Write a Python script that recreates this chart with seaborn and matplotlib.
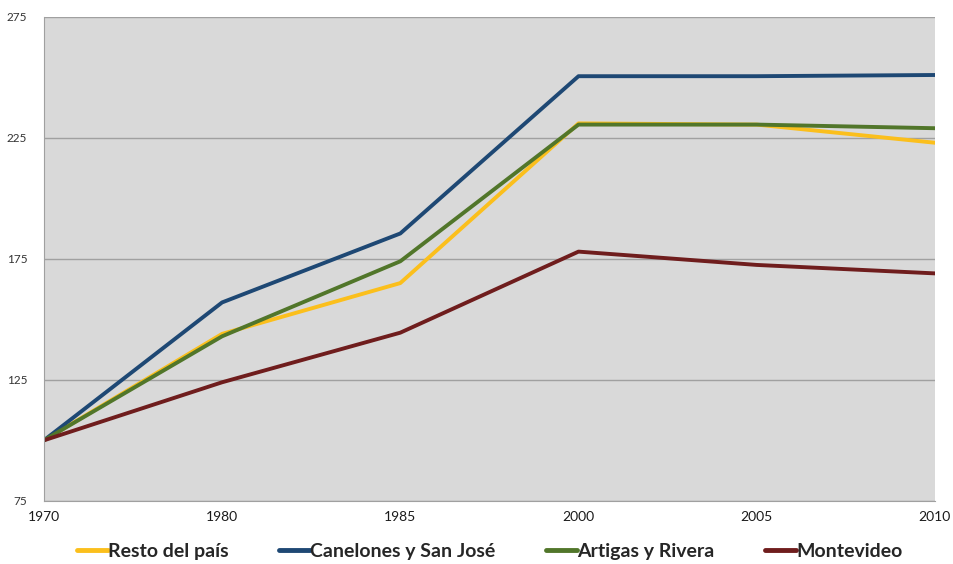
import pandas as pd
import matplotlib.pyplot as plt
import seaborn as sb

# Datos (índice base 1970 = 100)
years = ['1970', '1980', '1985', '2000', '2005', '2010']
series_names = ['Resto del país', 'Canelones y San José', 'Artigas y Rivera', 'Montevideo']
resto = [100, 144, 165, 231, 230.5, 223]
canelones = [100, 157, 185.5, 250.5, 250.5, 251]
artigas = [100, 143, 174, 230.5, 230.5, 229]
montevideo = [100, 124, 144.5, 178, 172.5, 169]
colors = ['#fbbf1c', '#1e4874', '#51762a', '#6f1d1d']

data = pd.DataFrame({
    'pos': list(range(len(years))) * 4,
    'valor': resto + canelones + artigas + montevideo,
    'serie': [s for s in series_names for _ in years],
})

sb.set_style('white')
plt.rcParams['font.family'] = ['Lato', 'DejaVu Sans']

fig = plt.figure(figsize=(9.54, 5.64), dpi=100)
ax = fig.add_axes([0.046, 0.112, 0.934, 0.858])
ax.set_facecolor('#d9d9d9')

sb.lineplot(data=data, x='pos', y='valor', hue='serie', hue_order=series_names,
            palette=colors, linewidth=2.8, ax=ax, legend=True)

ax.set_xlim(0, len(years) - 1)
ax.set_ylim(75, 275)
ax.set_yticks([75, 125, 175, 225, 275])
ax.set_xticks(range(len(years)))
ax.set_xticklabels(years)
ax.yaxis.grid(True, color='#a0a0a0', linewidth=1)
ax.set_axisbelow(True)
ax.set_xlabel('')
ax.set_ylabel('')

for side in ['top', 'right']:
    ax.spines[side].set_visible(False)
ax.spines['left'].set_color('#a0a0a0')
ax.spines['bottom'].set_color('#a0a0a0')
ax.tick_params(axis='y', length=0, labelsize=8.5, labelcolor='#333333', pad=12)
ax.tick_params(axis='x', length=5, color='#a0a0a0', direction='out', labelsize=10,
               labelcolor='#1a1a1a', pad=2)

leg = ax.legend(loc='upper center', bbox_to_anchor=(0.5, -0.05), ncol=4, frameon=False,
                handlelength=1.6, handletextpad=0.0, columnspacing=2.6,
                prop={'weight': 'bold', 'size': 14})
for line in leg.get_lines():
    line.set_linewidth(3.5)

fig.savefig('out.png', dpi=100, facecolor='white')
